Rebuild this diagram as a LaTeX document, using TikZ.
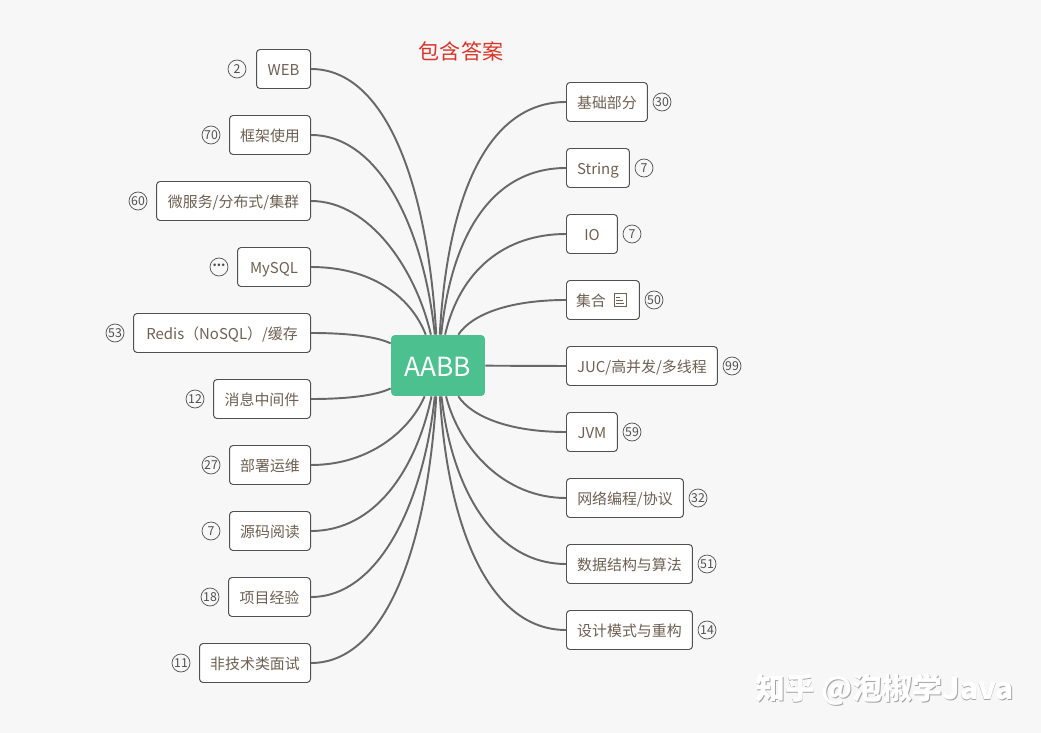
\documentclass[tikz,border=0pt]{standalone}
\usepackage{fontspec}
\setmainfont{Noto Sans CJK SC}
\usepackage{xcolor}
\usetikzlibrary{positioning}
\definecolor{pagebg}{HTML}{F7F7F7}
\definecolor{hubgreen}{HTML}{4CC08E}
\definecolor{topictext}{HTML}{6E6052}
\definecolor{linkgrey}{HTML}{686868}
\definecolor{boxline}{HTML}{505050}
\definecolor{titlered}{HTML}{D8352A}

\begin{document}
\begin{tikzpicture}[x=0.02cm,y=-0.02cm]
	\tikzstyle{topic} = [draw = boxline, fill = white, rounded corners = 0.07cm, line width = 0.55pt, text = topictext, minimum height = 0.78cm, inner sep = 0pt, text height = 7.6pt, text depth = 0pt, font = \fontsize{8.5}{10}\selectfont]
	\tikzstyle{ltopic} = [topic, anchor = east]
	\tikzstyle{rtopic} = [topic, anchor = west]
	\tikzstyle{count} = [circle, draw = boxline, line width = 0.4pt, minimum size = 0.36cm, inner sep = 0pt, text = boxline, font = \fontsize{7}{8}\selectfont]
	\tikzstyle{link} = [draw = linkgrey, line width = 1.1pt]
\path[fill = pagebg] (0,0) rectangle (1041,733);
\useasboundingbox (0,0) rectangle (1041,733);
\node[text = titlered, font = \fontsize{12}{14}\selectfont] (title) at (461,51) {包含答案};
\node[ltopic, minimum width = 1.08cm] (web) at (311,69) {WEB};
\node[ltopic, minimum width = 1.62cm] (frame) at (311,135) {框架使用};
\node[ltopic, minimum width = 3.08cm] (micro) at (311,201) {微服务/分布式/集群};
\node[ltopic, minimum width = 1.46cm] (mysql) at (311,267) {MySQL};
\node[ltopic, minimum width = 3.54cm] (redis) at (311,333) {Redis（NoSQL）/缓存};
\node[ltopic, minimum width = 1.94cm] (mq) at (311,399) {消息中间件};
\node[ltopic, minimum width = 1.62cm] (deploy) at (311,465) {部署运维};
\node[ltopic, minimum width = 1.62cm] (source) at (311,531) {源码阅读};
\node[ltopic, minimum width = 1.64cm] (project) at (311,597) {项目经验};
\node[ltopic, minimum width = 2.22cm] (soft) at (311,663) {非技术类面试};
\node[rtopic, minimum width = 1.62cm] (basic) at (566,102) {基础部分};
\node[rtopic, minimum width = 1.26cm] (string) at (566,168) {String};
\node[rtopic, minimum width = 1.02cm] (io) at (566,234) {IO};
\node[rtopic, minimum width = 1.46cm] (coll) at (566,300) {集合\hspace*{0.48cm}};
\node[rtopic, minimum width = 3.02cm] (juc) at (566,366) {JUC/高并发/多线程};
\node[rtopic, minimum width = 1.02cm] (jvm) at (566,432) {JVM};
\node[rtopic, minimum width = 2.34cm] (net) at (566,498) {网络编程/协议};
\node[rtopic, minimum width = 2.52cm] (algo) at (566,564) {数据结构与算法};
\node[rtopic, minimum width = 2.52cm] (design) at (566,630) {设计模式与重构};
\node[fill = hubgreen, rounded corners = 0.08cm, text = white, minimum width = 1.88cm, minimum height = 1.22cm, inner sep = 0pt, text height = 0.46cm, text depth = 0pt, font = \fontsize{15}{18}\selectfont] (hub) at (438,365.5) {AABB};
	\path[link] (web.east) .. controls (388,69) and (428,190) .. (hub);
	\path[link] (frame.east) .. controls (380,135) and (424,230) .. (hub);
	\path[link] (micro.east) .. controls (370,201) and (416,270) .. (hub);
	\path[link] (mysql.east) .. controls (370,267) and (410,295) .. (hub);
	\path[link] (redis.east) .. controls (345,333) and (375,336) .. (hub);
	\path[link] (mq.east) .. controls (345,399) and (375,396) .. (hub);
	\path[link] (deploy.east) .. controls (370,465) and (410,430) .. (hub);
	\path[link] (source.east) .. controls (375,531) and (416,470) .. (hub);
	\path[link] (project.east) .. controls (380,597) and (424,500) .. (hub);
	\path[link] (soft.east) .. controls (388,663) and (428,540) .. (hub);
	\path[link] (basic.west) .. controls (490,102) and (448,190) .. (hub);
	\path[link] (string.west) .. controls (495,168) and (452,230) .. (hub);
	\path[link] (io.west) .. controls (505,234) and (460,270) .. (hub);
	\path[link] (coll.west) .. controls (510,300) and (472,314) .. (hub);
	\path[link] (juc.west) -- (hub);
	\path[link] (jvm.west) .. controls (510,432) and (472,417) .. (hub);
	\path[link] (net.west) .. controls (505,498) and (460,450) .. (hub);
	\path[link] (algo.west) .. controls (495,564) and (452,490) .. (hub);
	\path[link] (design.west) .. controls (490,630) and (448,530) .. (hub);
\node[count] (cweb) at (237,69) {2};
\node[count] (cframe) at (211,135) {70};
\node[count] (cmicro) at (138,201) {60};
\node[count] (cmysql) at (219,267) {\raisebox{1.5pt}{\textbf{...}}};
\node[count] (credis) at (115,333) {53};
\node[count] (cmq) at (195,399) {12};
\node[count] (cdeploy) at (211,465) {27};
\node[count] (csource) at (211,531) {7};
\node[count] (cproject) at (210,597) {18};
\node[count] (csoft) at (181,663) {11};
\node[count] (cbasic) at (662,102) {30};
\node[count] (cstring) at (644,168) {7};
\node[count] (cio) at (632,234) {7};
\node[count] (ccoll) at (654,300) {50};
\node[count] (cjuc) at (732,366) {99};
\node[count] (cjvm) at (632,432) {59};
\node[count] (cnet) at (698,498) {32};
\node[count] (calgo) at (707,564) {51};
\node[count] (cdesign) at (707,630) {14};
	\path[draw = topictext, line width = 0.4pt] (614,293) rectangle (626,306);
	\path[draw = topictext, line width = 0.4pt] (616,297) -- (620,297) (616,300) -- (623,300) (616,303) -- (624,303);
\node[text = black!35, font = \fontsize{17}{20}\selectfont\bfseries] (markshadow) at (885.3,691) {知乎 @泡椒学Java};
\node[text = white, font = \fontsize{17}{20}\selectfont\bfseries] (mark) at (884.5,690) {知乎 @泡椒学Java};
	\end{tikzpicture}
\end{document}
